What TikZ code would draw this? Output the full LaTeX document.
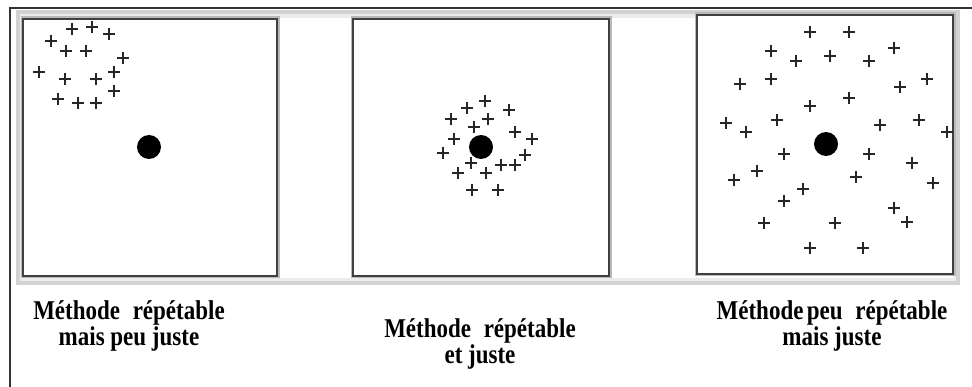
\documentclass[tikz,border=0pt]{standalone}
\usepackage{fontspec}
\setmainfont{Liberation Serif}
\usepackage{tikz}
\usetikzlibrary{positioning}
\usepackage{xcolor}

\tikzset{
  croix/.pic={\draw[line width=1.4pt,black!85] (-6,0) -- (6,0) (0,-6) -- (0,6);},
  carre/.style={draw=black!75,line width=1.6pt,fill=white},
  ombre/.style={draw=gray!55,line width=5pt},
  legende/.style={align=center,transform shape,yscale=1.18,
                  font=\fontsize{23}{22}\selectfont\bfseries}
}

\begin{document}
\begin{tikzpicture}[x=1pt,y=-1pt]
  \useasboundingbox (0,0) rectangle (972,387);
  % cadre extérieur
  \draw[line width=1.6pt,black!80] (10,387) -- (10,8) -- (972,8);
  % bandeau gris en relief
  \fill[gray!35] (16,10) rectangle (960,285);
  \fill[gray!15] (20,14) rectangle (956,281);
  \fill[white] (23,18) rectangle (953,278);

  % carré 1 : répétable mais peu juste
  \draw[ombre] (23,19) rectangle (277,276);
  \draw[carre] (23,19) rectangle (277,276);
  \foreach \x/\y in {72/29,92/27,109/34,51/41,66/51,86/51,123/58,39/72,
                     65/79,96/79,114/72,114/91,58/99,78/103,96/103}
    \pic at (\x,\y) {croix};
  \fill (149,147) circle (12);

  % carré 2 : répétable et juste
  \draw[ombre] (353,19) rectangle (609,276);
  \draw[carre] (353,19) rectangle (609,276);
  \foreach \x/\y in {467/108,485/101,509/110,451/119,488/119,474/127,
                     515/132,454/139,532/139,443/153,525/155,471/163,
                     501/165,515/165,458/173,486/173,472/190,498/190}
    \pic at (\x,\y) {croix};
  \fill (481,147) circle (12);

  % carré 3 : peu répétable mais juste
  \draw[ombre] (697,15) rectangle (953,274);
  \draw[carre] (697,15) rectangle (953,274);
  \foreach \x/\y in {810/32,849/32,771/51,796/61,830/56,869/61,894/48,
                     740/84,771/79,900/87,927/79,849/98,810/106,726/123,
                     746/132,777/120,880/125,919/120,947/132,784/154,
                     869/154,912/163,757/171,734/180,856/177,933/183,
                     803/189,784/201,894/208,907/222,764/223,835/223,
                     810/248,863/248}
    \pic at (\x,\y) {croix};
  \fill (826,144) circle (12);

  % légendes
  \node[legende] (leg1) at (129,326) {Méthode\hspace{0.3em} répétable\\mais peu juste};
  \node[legende] (leg2) at (480,344) {Méthode\hspace{0.3em} répétable\\et juste};
  \node[legende] (leg3) at (832,326) {Méthode\hspace{-0.1em} peu\hspace{0.3em} répétable\\mais juste};
\end{tikzpicture}
\end{document}
